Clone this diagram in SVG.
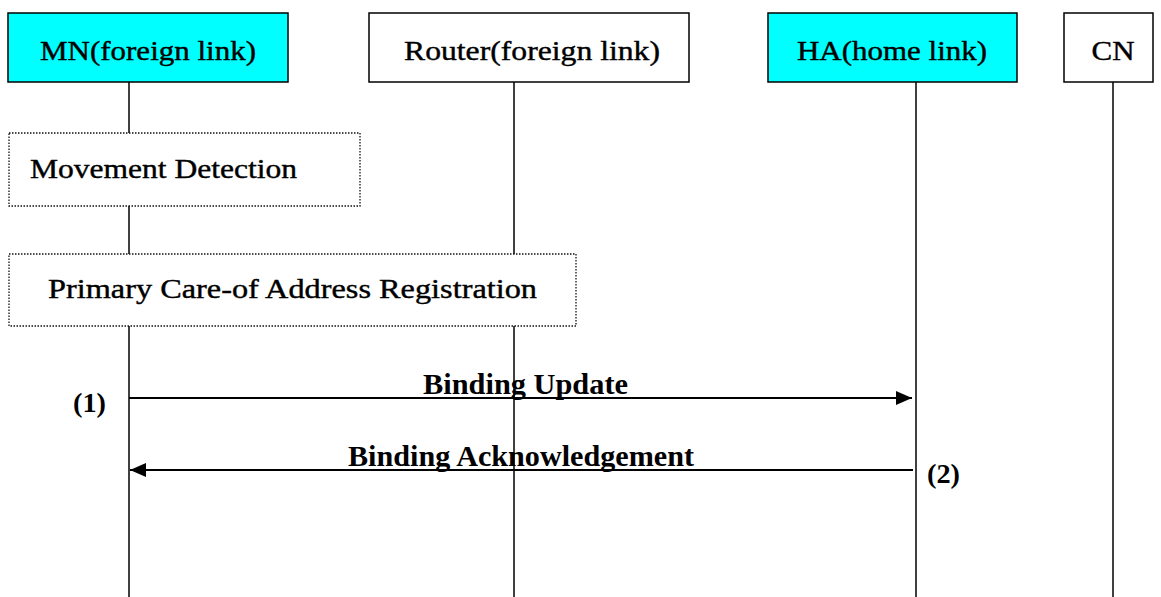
<svg xmlns="http://www.w3.org/2000/svg" width="1161" height="597" viewBox="0 0 1161 597">
<style>
.box{stroke:#000;stroke-width:1.5}
.cyan{fill:#00FFFF}
.white{fill:#fff}
.life{stroke:#000;stroke-width:1.5;fill:none}
.dot{fill:#fff;stroke:#111;stroke-width:1.3;stroke-dasharray:1.5 1.5}
.t{font-family:"Liberation Serif","DejaVu Serif",serif;font-size:27px;fill:#000;stroke:#000;stroke-width:0.4}
.b{font-family:"Liberation Serif","DejaVu Serif",serif;font-size:30px;font-weight:bold;fill:#000}
.n{font-family:"Liberation Serif","DejaVu Serif",serif;font-size:28px;font-weight:bold;fill:#000}
.msg{stroke:#000;stroke-width:1.8;fill:none}
</style>
<defs>
<marker id="arr" viewBox="0 0 16 14" refX="16" refY="7" markerWidth="16" markerHeight="14" markerUnits="userSpaceOnUse" orient="auto">
<path d="M0,0 L16,7 L0,14 Z" fill="#000"/>
</marker>
</defs>
<g id="lifelines">
<line class="life" x1="129" y1="82" x2="129" y2="597"/>
<line class="life" x1="514" y1="82" x2="514" y2="597"/>
<line class="life" x1="916" y1="82" x2="916" y2="597"/>
<line class="life" x1="1113" y1="82" x2="1113" y2="597"/>
</g>
<g id="MN">
<rect class="box cyan" x="8" y="13" width="280" height="69"/>
<text class="t" x="148" y="59.5" text-anchor="middle" textLength="216" lengthAdjust="spacingAndGlyphs">MN(foreign link)</text>
</g>
<g id="Router">
<rect class="box white" x="369" y="13" width="320" height="69"/>
<text class="t" x="532" y="59.5" text-anchor="middle" textLength="256" lengthAdjust="spacingAndGlyphs">Router(foreign link)</text>
</g>
<g id="HA">
<rect class="box cyan" x="768" y="13" width="249" height="69"/>
<text class="t" x="892" y="59.5" text-anchor="middle" textLength="190" lengthAdjust="spacingAndGlyphs">HA(home link)</text>
</g>
<g id="CN">
<rect class="box white" x="1064" y="13" width="89" height="69"/>
<text class="t" x="1113" y="59.5" text-anchor="middle" textLength="43" lengthAdjust="spacingAndGlyphs">CN</text>
</g>
<g id="movement-detection">
<rect class="dot" x="9" y="133" width="351" height="73"/>
<text class="t" x="30" y="178" textLength="267" lengthAdjust="spacingAndGlyphs">Movement Detection</text>
</g>
<g id="primary-coa-registration">
<rect class="dot" x="9" y="254" width="567" height="72"/>
<text class="t" x="48" y="298" textLength="489" lengthAdjust="spacingAndGlyphs">Primary Care-of Address Registration</text>
</g>
<g id="connectors">
<line class="msg" x1="129" y1="398" x2="912" y2="398" marker-end="url(#arr)"/>
<line class="msg" x1="913" y1="470" x2="130" y2="470" marker-end="url(#arr)"/>
</g>
<g id="labels">
<text class="b" x="423" y="394" textLength="205" lengthAdjust="spacingAndGlyphs">Binding Update</text>
<text class="b" x="348" y="466" textLength="346" lengthAdjust="spacingAndGlyphs">Binding Acknowledgement</text>
<text class="n" x="73" y="412" textLength="33" lengthAdjust="spacingAndGlyphs">(1)</text>
<text class="n" x="927" y="483" textLength="33" lengthAdjust="spacingAndGlyphs">(2)</text>
</g>
</svg>
